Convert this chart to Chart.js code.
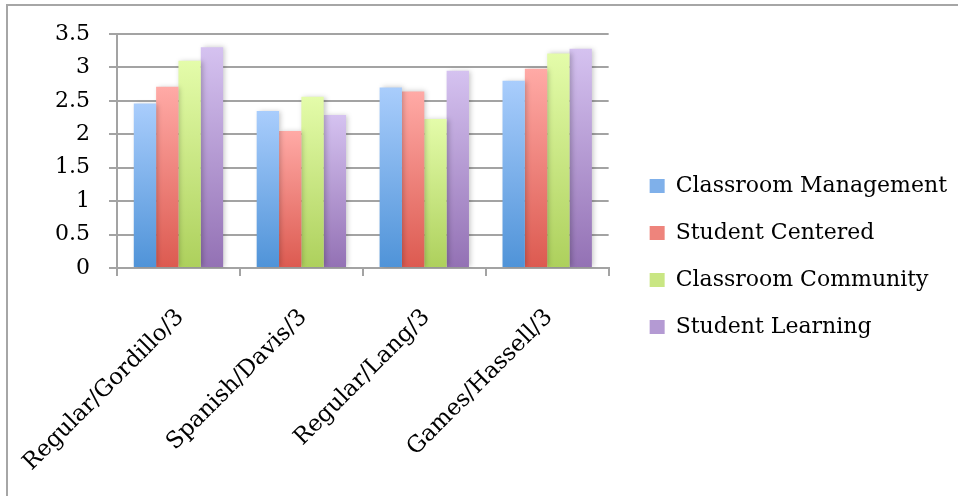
<!DOCTYPE html>
<html>
<head>
<meta charset="utf-8">
<script src="https://cdn.jsdelivr.net/npm/chart.js@4/dist/chart.umd.min.js"></script>
<style>
  html, body { margin: 0; padding: 0; background: #fff; }
  #wrap { position: relative; width: 958px; height: 496px; overflow: hidden; }
  #frame { position: absolute; left: 6px; top: 4px; right: 0; bottom: 0;
           border-left: 2px solid #a6a6a6; border-top: 2px solid #a6a6a6; pointer-events: none; }
</style>
</head>
<body>
<div id="wrap">
  <canvas id="chart" width="958" height="496"></canvas>
  <div id="frame"></div>
</div>
<script>
// Teacher ratings by class

const categories = ['Regular/Gordillo/3', 'Spanish/Davis/3', 'Regular/Lang/3', 'Games/Hassell/3'];
const seriesNames = ['Classroom Management', 'Student Centered', 'Classroom Community', 'Student Learning'];

const classroomManagement = [2.46, 2.35, 2.70, 2.80];
const studentCentered = [2.71, 2.05, 2.64, 2.98];
const classroomCommunity = [3.10, 2.56, 2.23, 3.21];
const studentLearning = [3.30, 2.29, 2.95, 3.28];

const yTickLabels = ['0', '0.5', '1', '1.5', '2', '2.5', '3', '3.5'];

// light top / dark bottom, like the Excel gradient fill
const palette = [
    { top: '#a9cdfc', bottom: '#4f93d8', flat: '#7fb0ea' },
    { top: '#ffaaa6', bottom: '#dc5a50', flat: '#ee847c' },
    { top: '#e4fcaa', bottom: '#add05c', flat: '#c9e683' },
    { top: '#d5c2f0', bottom: '#9371b4', flat: '#b49ad3' }
];

const FONT = '"DejaVu Serif", serif';

function barGradient(i) {
    return (context) => {
        const chart = context.chart;
        const y = chart.scales && chart.scales.y;
        if (context.type !== 'data' || !y || !chart.chartArea) return palette[i].flat;
        const top = y.getPixelForValue(context.raw);
        const base = y.getPixelForValue(0);
        const g = chart.ctx.createLinearGradient(0, top, 0, base);
        g.addColorStop(0, palette[i].top);
        g.addColorStop(1, palette[i].bottom);
        return g;
    };
}

const seriesValues = [classroomManagement, studentCentered, classroomCommunity, studentLearning];

const barShadow = {
    id: 'barShadow',
    beforeDatasetsDraw(chart) {
        const ctx = chart.ctx;
        ctx.save();
        ctx.shadowColor = 'rgba(0,0,0,0.22)';
        ctx.shadowBlur = 5;
        ctx.shadowOffsetX = 2;
        ctx.shadowOffsetY = 0;
    },
    afterDatasetsDraw(chart) {
        chart.ctx.restore();
    }
};

const gridColor = '#a3a3a3';

new Chart(document.getElementById('chart'), {
    type: 'bar',
    data: {
        labels: categories,
        datasets: seriesNames.map((name, i) => ({
            label: name,
            data: seriesValues[i],
            backgroundColor: barGradient(i),
            borderWidth: 0,
            categoryPercentage: 0.727,
            barPercentage: 1
        }))
    },
    plugins: [barShadow],
    options: {
        responsive: false,
        animation: false,
        events: [],
        layout: { padding: { top: 34, bottom: 17, left: 0, right: 1 } },
        scales: {
            x: {
                grid: { drawOnChartArea: false, color: gridColor, lineWidth: 2, tickLength: 8 },
                border: { color: gridColor, width: 2 },
                ticks: {
                    color: '#000',
                    font: { family: FONT, size: 23 },
                    minRotation: 45,
                    maxRotation: 45,
                    padding: 28,
                    labelOffset: 2,
                    autoSkip: false
                },
                afterFit: (scale) => {
                    scale.height = 211;
                    scale.paddingLeft = 0;
                    scale.paddingRight = 0;
                }
            },
            y: {
                min: 0,
                max: 3.5,
                grid: { color: gridColor, lineWidth: 2, tickLength: 8 },
                border: { color: gridColor, width: 2 },
                ticks: {
                    stepSize: 0.5,
                    color: '#000',
                    font: { family: FONT, size: 22 },
                    padding: 19,
                    callback: (v, i) => yTickLabels[i]
                },
                afterFit: (scale) => { scale.width = 117; }
            },
            gap: {
                position: 'right',
                display: true,
                grid: { display: false },
                border: { display: false },
                ticks: { display: false },
                afterFit: (scale) => { scale.width = 16; }
            }
        },
        plugins: {
            tooltip: { enabled: false },
            legend: {
                position: 'right',
                align: 'center',
                maxWidth: 400,
                labels: {
                    color: '#000',
                    font: { family: FONT, size: 22 },
                    boxWidth: 15,
                    boxHeight: 14,
                    padding: 25,
                    generateLabels: (chart) => seriesNames.map((name, i) => ({
                        text: name,
                        fillStyle: palette[i].flat,
                        strokeStyle: palette[i].flat,
                        lineWidth: 0,
                        hidden: false,
                        datasetIndex: i
                    }))
                }
            }
        }
    }
});
</script>
</body>
</html>
